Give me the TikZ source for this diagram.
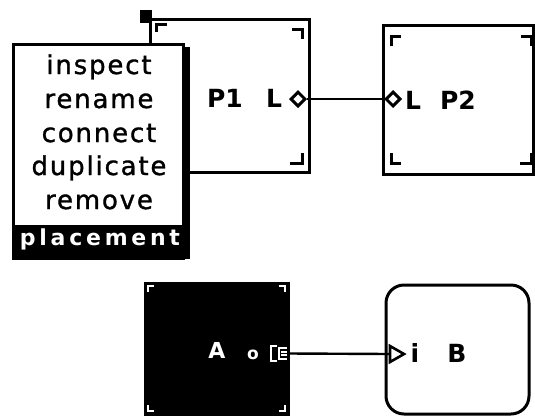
\documentclass[tikz,border=0pt]{standalone}
\usepackage{fontspec}
\setmainfont{DejaVu Sans}
\newfontfamily\lblfont{DejaVu Sans Bold}
\newfontfamily\menufont[LetterSpace=7,FakeBold=1.2]{DejaVu Sans}
\newfontfamily\placefont[LetterSpace=17]{DejaVu Sans Bold}
\usetikzlibrary{shapes.geometric}
\begin{document}
\begin{tikzpicture}[x=1pt,y=-1pt,
  box/.style={draw, line width=3pt, inner sep=0pt},
  mitem/.style={font=\menufont\fontsize{26}{26}\selectfont, inner sep=0pt, anchor=base},
  pitem/.style={font=\placefont\fontsize{22}{22}\selectfont, inner sep=0pt, anchor=base, text=white},
  lbl/.style={font=\lblfont\fontsize{25}{25}\selectfont, inner sep=0pt, anchor=base},
  cmark/.style={line width=3pt},
  dport/.style={diamond, draw, line width=3pt, fill=white, minimum width=15pt, minimum height=15pt, inner sep=0pt},
  wire/.style={line width=2.4pt}
]
\useasboundingbox (0,0) rectangle (535,416);

% ---------- P1 ----------
\node[box, minimum width=159pt, minimum height=153pt] (P1) at (229.5,95.5) {};
\draw[cmark] (156,32) -- (156,24) -- (167,24);
\draw[cmark] (292,29) -- (302,29) -- (302,39);
\draw[cmark] (290,163) -- (302,163) -- (302,153);
\node[lbl] (P1name) at (225,107) {P1};
\node[lbl] (P1Ltxt) at (274,107) {L};
\node[dport] (p1L) at (298,99) {};

% ---------- P2 ----------
\node[box, minimum width=150pt, minimum height=149pt] (P2) at (458,99.5) {};
\draw[cmark] (391,46) -- (391,36) -- (401,36);
\draw[cmark] (391,153) -- (391,163) -- (401,163);
\draw[cmark] (521,36) -- (531,36) -- (531,46);
\draw[cmark] (520,163) -- (531,163) -- (531,153);
\node[dport] (p2L) at (393,99) {};
\node[lbl] (P2Ltxt) at (413,109) {L};
\node[lbl] (P2name) at (458,109) {P2};

\draw[wire] (p1L.east) -- (p2L.west);

% ---------- selection handle ----------
\fill (140,10) rectangle (152,23);

% ---------- popup menu ----------
\fill (182,47) rectangle (190,259);
\node[draw, line width=3.5pt, fill=white, minimum width=170pt, minimum height=214pt, inner sep=0pt] (menu) at (98.5,151.5) {};
\fill (12,225) rectangle (190,259);
\node[mitem] (mInspect) at (99,74) {inspect};
\node[mitem] (mRename) at (99,108) {rename};
\node[mitem] (mConnect) at (99,142) {connect};
\node[mitem] (mDuplicate) at (99,175) {duplicate};
\node[mitem] (mRemove) at (99,209) {remove};
\node[pitem] (mPlacement) at (100,245) {placement};

% ---------- A ----------
\node[box, fill=black, minimum width=143pt, minimum height=131pt] (A) at (216.5,348.5) {};
\draw[white, line width=1.2pt] (148,292) -- (148,286) -- (154,286);
\draw[white, line width=1.2pt] (279,286) -- (285,286) -- (285,292);
\draw[white, line width=1.2pt] (148,405) -- (148,411) -- (154,411);
\draw[white, line width=1.2pt] (279,411) -- (285,411) -- (285,405);
\node[lbl, text=white, font=\lblfont\fontsize{22}{22}\selectfont] (Aname) at (217,358) {A};
\node[inner sep=0pt, anchor=base, text=white, font=\lblfont\fontsize{17}{17}\selectfont] (Aotxt) at (253,359) {o};
\draw[white, line width=1.5pt] (277,346) -- (271,346) -- (271,361) -- (277,361);
\draw[white, line width=1.5pt] (287,348) -- (279,348) -- (279,359) -- (287,359);
\draw[white, line width=1.2pt] (281,352) -- (287,352) (281,355) -- (287,355);
\coordinate (Ao) at (289,353.5);

% ---------- B ----------
\node[box, rounded corners=18pt, minimum width=143pt, minimum height=129pt] (B) at (457.5,349.5) {};
\draw[line width=2.6pt, fill=white] (390,346) -- (404,354) -- (390,362) -- cycle;
\coordinate (Bi) at (390,354);
\node[lbl] (Bitxt) at (415,362) {i};
\node[lbl] (Bname) at (457,362) {B};

\draw[wire] (Ao) -- (Bi);
\end{tikzpicture}
\end{document}
